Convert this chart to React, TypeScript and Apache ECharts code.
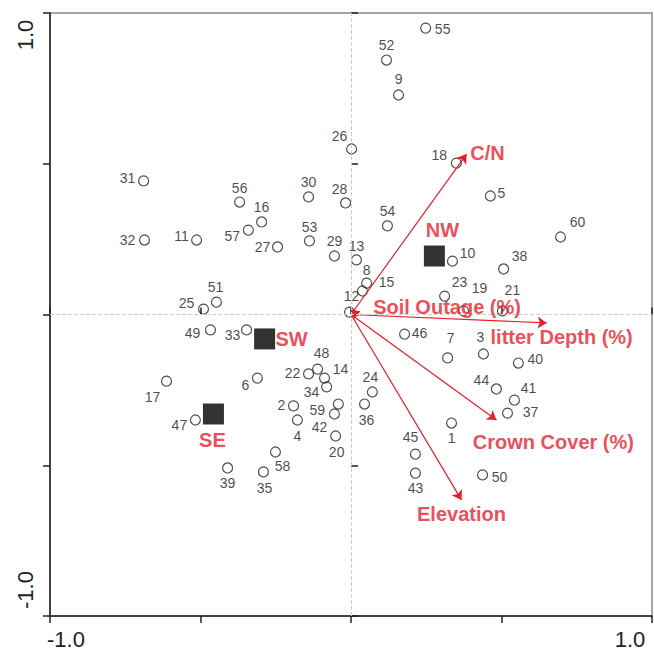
import React, { useEffect, useRef } from 'react';
import * as echarts from 'echarts';

// ---- data ----
const siteIds = Array.from({ length: 60 }, (_, i) => String(i + 1));
const siteX = [
  0.334, -0.191, 0.44, -0.178, 0.463, -0.311, 0.321, 0.052, 0.158, 0.337,
  -0.513, -0.005, 0.018, -0.088, 0.038, -0.297, -0.613, 0.35, 0.374, -0.051,
  0.503, -0.141, 0.311, 0.071, -0.49, 0.002, -0.244, -0.018, -0.055, -0.141,
  -0.689, -0.686, -0.347, -0.081, -0.291, 0.045, 0.52, 0.507, -0.41, 0.556,
  0.543, -0.055, 0.214, 0.483, 0.214, 0.178, -0.517, -0.111, -0.467, 0.437,
  -0.447, 0.118, -0.138, 0.121, 0.248, -0.37, -0.341, -0.251, -0.042, 0.696,
];
const siteY = [
  -0.36, -0.303, -0.131, -0.35, 0.393, -0.211, -0.144, 0.104, 0.728, 0.177,
  0.247, 0.008, 0.181, -0.211, 0.078, 0.307, -0.221, 0.502, 0.012, -0.403,
  0.012, -0.197, 0.061, -0.257, 0.018, 0.549, 0.224, 0.37, 0.194, 0.39,
  0.443, 0.247, -0.051, -0.24, -0.522, -0.297, -0.327, 0.151, -0.509, -0.161,
  -0.284, -0.33, -0.526, -0.247, -0.463, -0.065, -0.35, -0.181, -0.051, -0.532,
  0.041, 0.844, 0.244, 0.294, 0.95, 0.373, 0.28, -0.456, -0.297, 0.257,
];
const aspectNames = ['NW', 'SW', 'SE'];
const aspectX = [0.277, -0.287, -0.457];
const aspectY = [0.194, -0.081, -0.33];
const envNames = ['C/N', 'Soil Outage (%)', 'litter Depth (%)', 'Crown Cover (%)', 'Elevation'];
const envX = [0.384, 0.03, 0.65, 0.483, 0.367];
const envY = [0.532, 0.01, -0.028, -0.35, -0.615];
const tickLabels: Record<string, string> = { '-1': '-1.0', '1': '1.0' };

// ---- label placement (pixels, style only) ----
const siteLabelOffsets: number[][] = [
  [0, 15], [-12, -1], [-3, -17], [0, 16], [11, -3], [-12, 7], [3, -20], [0, -13], [0, -16], [15, -8],
  [-15, -4], [2, -16], [0, -14], [16, -9], [24, -9], [0, -15], [-14, 16], [-17, -8], [16, -23], [1, 16],
  [10, -21], [-16, -1], [15, -14], [-2, -15], [-17, -6], [-12, -13], [-15, 0], [-6, -14], [0, -15], [0, -15],
  [-16, -3], [-17, 0], [-14, 5], [-15, 5], [1, 16], [2, 16], [23, -1], [16, -13], [0, 15], [17, -4],
  [14, -12], [-15, 13], [0, 15], [-15, -9], [-5, -17], [15, -1], [-16, 5], [4, -16], [-18, 3], [17, 2],
  [-1, -15], [0, -15], [0, -14], [0, -15], [17, 1], [0, -14], [-16, 6], [7, 14], [-21, 6], [17, -15],
];
const aspectLabelOffsets: number[][] = [[8, -26], [27, 0], [-1, 26]];
const envLabelOffsets: number[][] = [[21, -1], [87, -4], [15, 14], [57, 22], [0, 14]];

const RED = '#e61e2b';
const FONT = '"Liberation Sans", Arial, Helvetica, sans-serif';
const noBorder = { textBorderWidth: 0, textBorderColor: 'transparent', textShadowBlur: 0 };

export default function App() {
  const ref = useRef<HTMLDivElement>(null);
  useEffect(() => {
    if (!ref.current) return;
    const chart = echarts.init(ref.current, undefined, { renderer: 'svg' });
    const baseAxis = { type: 'value' as const, min: -1, max: 1, interval: 0.5, splitLine: { show: false } };
    const mainAxisLine = { show: true, onZero: false, lineStyle: { color: '#222', width: 1.5 } };
    const tickStyle = { color: '#222', width: 1.5 };
    const fmt = (v: number) => {
      const k = String(v);
      if (k === '-1') return '{mn|' + tickLabels[k] + '}';
      if (k === '1') return '{mx|' + tickLabels[k] + '}';
      return '';
    };
    chart.setOption({
      animation: false,
      backgroundColor: '#fff',
      textStyle: { fontFamily: FONT },
      grid: { left: 50, right: 2, top: 13, bottom: 38, show: true, borderColor: '#888', borderWidth: 1.5 },
      xAxis: [
        {
          ...baseAxis,
          position: 'bottom',
          axisLine: mainAxisLine,
          axisTick: { show: true, inside: false, length: 7, lineStyle: tickStyle },
          axisLabel: {
            formatter: fmt, margin: 12, color: '#222', fontSize: 22, fontFamily: FONT,
            rich: {
              mn: { fontSize: 22, color: '#222', fontFamily: FONT, padding: [0, 0, 0, 32] },
              mx: { fontSize: 22, color: '#222', fontFamily: FONT, padding: [0, 44, 0, 0] },
            },
          },
        },
        {
          ...baseAxis,
          position: 'bottom',
          axisLine: { show: false },
          axisTick: { show: true, inside: true, length: 7, lineStyle: tickStyle },
          axisLabel: { show: false },
        },
      ],
      yAxis: [
        {
          ...baseAxis,
          position: 'left',
          axisLine: mainAxisLine,
          axisTick: { show: true, inside: false, length: 7, lineStyle: tickStyle },
          axisLabel: {
            formatter: fmt, margin: 14, rotate: 90, color: '#222', fontSize: 22, fontFamily: FONT,
            rich: {
              mn: { fontSize: 22, color: '#222', fontFamily: FONT, padding: [0, 0, 0, 52] },
              mx: { fontSize: 22, color: '#222', fontFamily: FONT, padding: [0, 44, 0, 0] },
            },
          },
        },
        {
          ...baseAxis,
          position: 'left',
          axisLine: { show: false },
          axisTick: { show: true, inside: true, length: 7, lineStyle: tickStyle },
          axisLabel: { show: false },
        },
      ],
      series: [
        {
          type: 'scatter',
          name: 'sites',
          xAxisIndex: 0,
          yAxisIndex: 0,
          symbol: 'circle',
          symbolSize: 10,
          itemStyle: { color: 'rgba(255,255,255,0)', borderColor: '#222', borderWidth: 1.2 },
          label: {
            show: true, position: 'inside', formatter: '{b}', fontSize: 14, color: '#1a1a1a', fontFamily: FONT,
            ...noBorder,
          },
          data: siteX.map((x, i) => ({
            name: siteIds[i],
            value: [x, siteY[i]],
            label: { offset: siteLabelOffsets[i] },
          })),
          markLine: {
            silent: true,
            symbol: ['none', 'none'],
            label: { show: false },
            lineStyle: { type: 'dashed', color: '#cfcfcf', width: 1 },
            data: [{ xAxis: 0 }, { yAxis: 0 }],
          },
          z: 3,
        },
        {
          type: 'lines',
          name: 'arrows',
          coordinateSystem: 'cartesian2d',
          xAxisIndex: 0,
          yAxisIndex: 0,
          symbol: ['none', 'arrow'],
          symbolSize: 9,
          lineStyle: { color: RED, width: 1.2, opacity: 1 },
          data: envX.map((x, i) => ({ name: envNames[i], coords: [[0, 0], [x, envY[i]]] })),
          z: 4,
        },
        {
          type: 'scatter',
          name: 'envLabels',
          xAxisIndex: 0,
          yAxisIndex: 0,
          symbolSize: 1,
          itemStyle: { color: 'rgba(0,0,0,0)' },
          label: {
            show: true, position: 'inside', formatter: '{b}', fontSize: 20, fontWeight: 'bold', color: RED, fontFamily: FONT,
            ...noBorder,
          },
          data: envX.map((x, i) => ({
            name: envNames[i],
            value: [x, envY[i]],
            label: { offset: envLabelOffsets[i] },
          })),
          z: 5,
        },
        {
          type: 'scatter',
          name: 'aspects',
          xAxisIndex: 0,
          yAxisIndex: 0,
          symbol: 'rect',
          symbolSize: 21,
          itemStyle: { color: '#000' },
          label: {
            show: true, position: 'inside', formatter: '{b}', fontSize: 20, fontWeight: 'bold', color: RED, fontFamily: FONT,
            ...noBorder,
          },
          data: aspectX.map((x, i) => ({
            name: aspectNames[i],
            value: [x, aspectY[i]],
            label: { offset: aspectLabelOffsets[i] },
          })),
          z: 6,
        },
      ],
    });
    return () => chart.dispose();
  }, []);
  return (
    <div
      ref={ref}
      style={{ position: 'fixed', left: 0, top: 0, width: 654, height: 654, background: '#fff' }}
    />
  );
}
